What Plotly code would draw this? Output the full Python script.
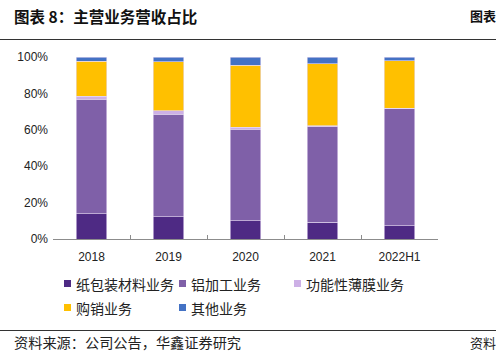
import plotly.graph_objects as go

categories = ["2018", "2019", "2020", "2021", "2022H1"]
series_names = ["纸包装材料业务", "铝加工业务", "功能性薄膜业务", "购销业务", "其他业务"]
paper_pkg = [14.0, 12.2, 10.0, 9.1, 7.3]
aluminum = [62.7, 56.4, 50.4, 52.6, 64.2]
film = [1.8, 1.8, 0.9, 0.5, 0.4]
trading = [19.3, 26.9, 34.3, 34.2, 26.1]
other = [2.2, 2.7, 4.4, 3.6, 2.0]
y_ticks = [0, 0.2, 0.4, 0.6, 0.8, 1.0]

colors = ["#4E2A84", "#7F60A8", "#CDB0E6", "#FFC000", "#4472C4"]
values = [paper_pkg, aluminum, film, trading, other]

W, H = 496, 356
L, R, T, B = 53, 58, 57, 117

fig = go.Figure()
for name, vals, c in zip(series_names, values, colors):
    fig.add_trace(go.Bar(
        x=categories, y=[v / 100 for v in vals], name=name,
        marker=dict(color=c, line=dict(color="#E6DAF2", width=0.6)),
        width=0.4, showlegend=False,
    ))

cjk = "Noto Sans CJK SC"
lat = "Liberation Sans, Arial, sans-serif"

fig.update_layout(
    width=W, height=H, autosize=False,
    margin=dict(l=L, r=R, t=T, b=B),
    barmode="stack",
    plot_bgcolor="white", paper_bgcolor="white",
    xaxis=dict(
        showline=True, linecolor="#8C8C8C", linewidth=1,
        ticks="inside", tickson="boundaries", ticklen=4, tickcolor="#8C8C8C",
        tickfont=dict(family=lat, size=12, color="#222"),
        ticklabelstandoff=7,
        showgrid=False,
    ),
    yaxis=dict(
        range=[0, 1.0], tickvals=y_ticks, tickformat=".0%",
        showgrid=False, showline=False, zeroline=False,
        tickfont=dict(family=lat, size=12, color="#222"),
        ticklabelstandoff=4,
    ),
    font=dict(family=cjk),
)


def px_x(px):
    return (px - L) / (W - L - R)


def px_y(py):
    return (H - B - py) / (H - T - B)


# title and header rule
fig.add_annotation(xref="paper", yref="paper", x=px_x(12), y=px_y(16),
                   xanchor="left", yanchor="middle", showarrow=False,
                   text="<b>图表 8：主营业务营收占比</b>", font=dict(family=cjk, size=15.5, color="#111"))
fig.add_annotation(xref="paper", yref="paper", x=px_x(468), y=px_y(16),
                   xanchor="left", yanchor="middle", showarrow=False,
                   text="<b>图表</b>", font=dict(family=cjk, size=13, color="#111"))

fig.add_shape(type="line", xref="paper", yref="paper", x0=px_x(0), x1=px_x(W), y0=px_y(39.5), y1=px_y(39.5),
              line=dict(color="#333", width=1.2))
fig.add_shape(type="line", xref="paper", yref="paper", x0=px_x(0), x1=px_x(W), y0=px_y(330.5), y1=px_y(330.5),
              line=dict(color="#333", width=1.2))

# legend
legend_pos = [(64, 283.5), (179, 283.5), (294, 283.5), (64, 307.5), (179, 307.5)]
for name, c, (lx, ly) in zip(series_names, colors, legend_pos):
    fig.add_shape(type="rect", xref="paper", yref="paper",
                  x0=px_x(lx), x1=px_x(lx + 7), y0=px_y(ly + 3.5), y1=px_y(ly - 3.5),
                  fillcolor=c, line=dict(width=0))
    fig.add_annotation(xref="paper", yref="paper", x=px_x(lx + 10), y=px_y(ly),
                       xanchor="left", yanchor="middle", showarrow=False,
                       text=name, font=dict(family=cjk, size=14, color="#222"))

# source
fig.add_annotation(xref="paper", yref="paper", x=px_x(12), y=px_y(342),
                   xanchor="left", yanchor="middle", showarrow=False,
                   text="资料来源：公司公告，华鑫证券研究", font=dict(family=cjk, size=14.2, color="#222"))
fig.add_annotation(xref="paper", yref="paper", x=px_x(468), y=px_y(342),
                   xanchor="left", yanchor="middle", showarrow=False,
                   text="资料", font=dict(family=cjk, size=13, color="#222"))

fig.write_html("out.html", config={"displayModeBar": False},
               post_script="document.body.style.margin='0';document.body.style.overflow='hidden';")
